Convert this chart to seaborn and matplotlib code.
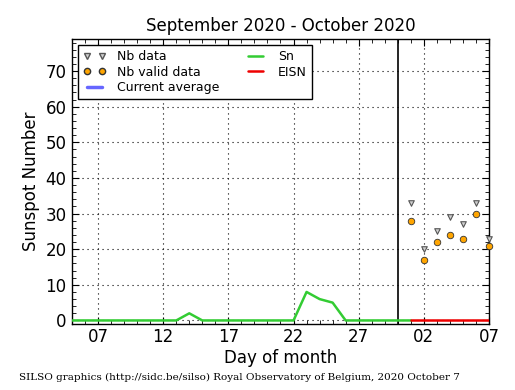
import matplotlib
matplotlib.use("Agg")
import matplotlib.pyplot as plt
from matplotlib.lines import Line2D
from matplotlib.ticker import MultipleLocator, FixedLocator
import seaborn as sns
import pandas as pd
import numpy as np

# Day index: September days as-is, October days as 30 + day
sn_days = list(range(5, 32))
sn_values = [0, 0, 0, 0, 0, 0, 0, 0, 0, 2, 0, 0, 0, 0, 0, 0, 0, 0, 8, 6, 5, 0, 0, 0, 0, 0, 0]
eisn_days = [31, 32, 33, 34, 35, 36, 37]
eisn_values = [0, 0, 0, 0, 0, 0, 0]
nb_days = [31, 32, 33, 34, 35, 36, 37]
nb_data = [33, 20, 25, 29, 27, 33, 23]
nb_valid = [28, 17, 22, 24, 23, 30, 21]
tick_positions = [7, 12, 17, 22, 27, 32, 37]
tick_labels = ["07", "12", "17", "22", "27", "02", "07"]
month_boundary = 30

sns.set_style("ticks")
plt.rcParams["font.family"] = ["DejaVu Sans"]
plt.rcParams["text.color"] = "black"
plt.rcParams["axes.labelcolor"] = "black"
plt.rcParams["xtick.color"] = "black"
plt.rcParams["ytick.color"] = "black"

fig = plt.figure(figsize=(5.15, 3.9), dpi=100)
ax = fig.add_axes([0.1398, 0.1692, 0.8097, 0.7308])

df_sn = pd.DataFrame({"day": sn_days, "val": sn_values})
df_eisn = pd.DataFrame({"day": eisn_days, "val": eisn_values})
df_nb = pd.DataFrame({"day": nb_days, "data": nb_data, "valid": nb_valid})

sns.lineplot(data=df_sn, x="day", y="val", ax=ax, color="#33cc33", lw=1.8, zorder=3)
sns.lineplot(data=df_eisn, x="day", y="val", ax=ax, color="#ee0000", lw=1.8, zorder=3)
sns.scatterplot(data=df_nb, x="day", y="data", ax=ax, marker="v", s=16,
                color="#d0d0d0", edgecolor="#555555", linewidth=0.8, zorder=4, clip_on=False)
sns.scatterplot(data=df_nb, x="day", y="valid", ax=ax, marker="o", s=22,
                color="#ffa500", edgecolor="#333333", linewidth=0.6, zorder=4, clip_on=False)
ax.axvline(month_boundary, color="black", lw=1.2, zorder=2)

ax.set_xlim(5, 37)
ax.set_ylim(-1, 79)
ax.xaxis.set_major_locator(FixedLocator(tick_positions))
ax.set_xticklabels(tick_labels)
ax.xaxis.set_minor_locator(MultipleLocator(1))
ax.yaxis.set_major_locator(MultipleLocator(10))
ax.yaxis.set_minor_locator(MultipleLocator(2))
ax.tick_params(which="both", direction="in", top=True, right=True, labelsize=12, color="black")
ax.tick_params(which="major", length=5, width=0.8)
ax.tick_params(which="minor", length=3, width=0.6)
ax.tick_params(axis="x", pad=3)
ax.tick_params(axis="y", pad=4)
ax.grid(True, which="major", linestyle=(0, (1, 3.5)), color="black", lw=0.8)
for s in ax.spines.values():
    s.set_color("black")
    s.set_linewidth(1.0)

ax.set_xlabel("Day of month", fontsize=12, labelpad=2)
ax.set_ylabel("Sunspot Number", fontsize=12)
ax.set_title("September 2020 - October 2020", fontsize=12)

handles = [
    Line2D([], [], ls="none", marker="v", markersize=4, markerfacecolor="#d0d0d0", markeredgecolor="#555555"),
    Line2D([], [], ls="none", marker="o", markersize=4.5, markerfacecolor="#ffa500", markeredgecolor="#333333"),
    Line2D([], [], color="#6666ff", lw=2.5),
    Line2D([], [], color="#33cc33", lw=1.8),
    Line2D([], [], color="#ee0000", lw=1.8),
]
labels = ["Nb data", "Nb valid data", "Current average", "Sn", "EISN"]
leg = ax.legend(handles, labels, ncol=2, loc="upper left", numpoints=2, fontsize=9,
                frameon=True, fancybox=False, edgecolor="black", framealpha=1,
                borderaxespad=0.5, handlelength=1.8, handletextpad=0.9,
                columnspacing=2.0, labelspacing=0.2, borderpad=0.4)
leg.get_frame().set_linewidth(1.0)

fig.text(0.037, 0.025, "SILSO graphics (http://sidc.be/silso) Royal Observatory of Belgium, 2020 October 7",
         family="DejaVu Serif", fontsize=7.5)

fig.savefig("out.png", dpi=100)
